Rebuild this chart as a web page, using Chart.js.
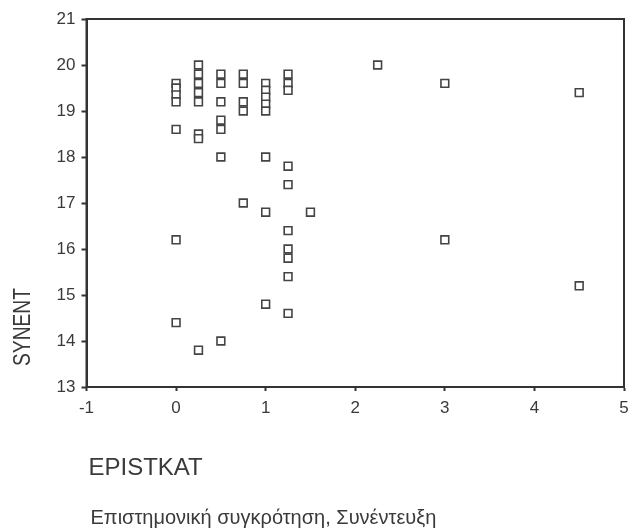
<!DOCTYPE html>
<html>
<head>
<meta charset="utf-8">
<script src="https://cdn.jsdelivr.net/npm/chart.js@4.4.1/dist/chart.umd.min.js"></script>
<style>
  html, body { margin: 0; padding: 0; background: #ffffff; }
  #wrap { width: 633px; height: 528px; }
</style>
</head>
<body>
<div id="wrap"><canvas id="c" width="633" height="528"></canvas></div>
<script>
// EPISTKAT (x) and SYNENT (y) values, one entry per respondent
const epistkat = [
  0, 0, 0, 0, 0, 0, 0,
  0.25, 0.25, 0.25, 0.25, 0.25, 0.25, 0.25, 0.25,
  0.5, 0.5, 0.5, 0.5, 0.5, 0.5, 0.5,
  0.75, 0.75, 0.75, 0.75, 0.75,
  1, 1, 1, 1, 1, 1, 1, 1,
  1.25, 1.25, 1.25, 1.25, 1.25, 1.25, 1.25, 1.25, 1.25, 1.25,
  1.5,
  2.25,
  3, 3,
  4.5, 4.5
];
const synent = [
  19.6, 19.5, 19.35, 19.2, 18.6, 16.2, 14.4,
  20.0, 19.8, 19.6, 19.4, 19.2, 18.5, 18.4, 13.8,
  19.8, 19.6, 19.2, 18.8, 18.6, 18.0, 14.0,
  19.8, 19.6, 19.2, 19.0, 17.0,
  19.6, 19.45, 19.3, 19.15, 19.0, 18.0, 16.8, 14.8,
  19.8, 19.6, 19.45, 17.8, 17.4, 16.4, 16.0, 15.8, 15.4, 14.6,
  16.8,
  20.0,
  19.6, 16.2,
  19.4, 15.2
];

// Axis ranges and labels
const xRange = [-1, 5];
const yRange = [13, 21];
const xTitle = 'EPISTKAT';
const yTitle = 'SYNENT';
const caption = 'Επιστημονική συγκρότηση, Συνέντευξη';

const points = epistkat.map((x, i) => ({ x: x, y: synent[i] }));

const ink = '#333333';
const font = 'Liberation Sans, Arial, sans-serif';

// Closed frame around the plot plus the free-standing titles
const framePlugin = {
  id: 'frameAndTitles',
  afterDraw(chart) {
    const { ctx, chartArea: a } = chart;
    ctx.save();
    ctx.strokeStyle = ink;
    ctx.lineWidth = 2;
    ctx.strokeRect(a.left, a.top, a.right - a.left, a.bottom - a.top);

    ctx.fillStyle = '#3a3a3a';
    ctx.textBaseline = 'middle';
    ctx.textAlign = 'left';
    ctx.font = '24px ' + font;
    ctx.fillText(xTitle, a.left + 2, a.bottom + 81);

    ctx.font = '20px ' + font;
    ctx.fillText(caption, a.left + 4, a.bottom + 131);

    // vertical axis title, set in a condensed cut
    ctx.translate(a.left - 63, a.bottom - 60);
    ctx.rotate(-Math.PI / 2);
    ctx.scale(0.8, 1);
    ctx.textAlign = 'center';
    ctx.font = '24px ' + font;
    ctx.fillText(yTitle, 0, 0);
    ctx.restore();
  }
};

new Chart(document.getElementById('c'), {
  type: 'scatter',
  data: {
    datasets: [{
      data: points,
      pointStyle: 'rect',
      pointRadius: 5.5,
      pointHoverRadius: 5.5,
      borderWidth: 1.6,
      borderColor: '#444444',
      backgroundColor: '#ffffff'
    }]
  },
  options: {
    responsive: false,
    animation: false,
    events: [],
    layout: { padding: { top: 19, right: 9, left: 0, bottom: 0 } },
    plugins: { legend: { display: false }, tooltip: { enabled: false } },
    scales: {
      x: {
        type: 'linear',
        min: xRange[0],
        max: xRange[1],
        ticks: { stepSize: 1, color: '#3a3a3a', font: { family: font, size: 17 }, padding: 7 },
        grid: { drawOnChartArea: false, drawTicks: true, tickLength: 4, tickWidth: 2, tickColor: ink },
        border: { display: true, color: ink, width: 2 },
        afterFit(scale) {
          scale.height = 141;
          scale.paddingLeft = 0;
          scale.paddingRight = 0;
        }
      },
      y: {
        type: 'linear',
        min: yRange[0],
        max: yRange[1],
        ticks: { stepSize: 1, color: '#3a3a3a', font: { family: font, size: 17 }, padding: 6 },
        grid: { drawOnChartArea: false, drawTicks: true, tickLength: 5, tickWidth: 2, tickColor: ink },
        border: { display: true, color: ink, width: 2 },
        afterFit(scale) {
          scale.width = 86.5;
          scale.paddingTop = 0;
          scale.paddingBottom = 0;
        }
      }
    }
  },
  plugins: [framePlugin]
});
</script>
</body>
</html>
